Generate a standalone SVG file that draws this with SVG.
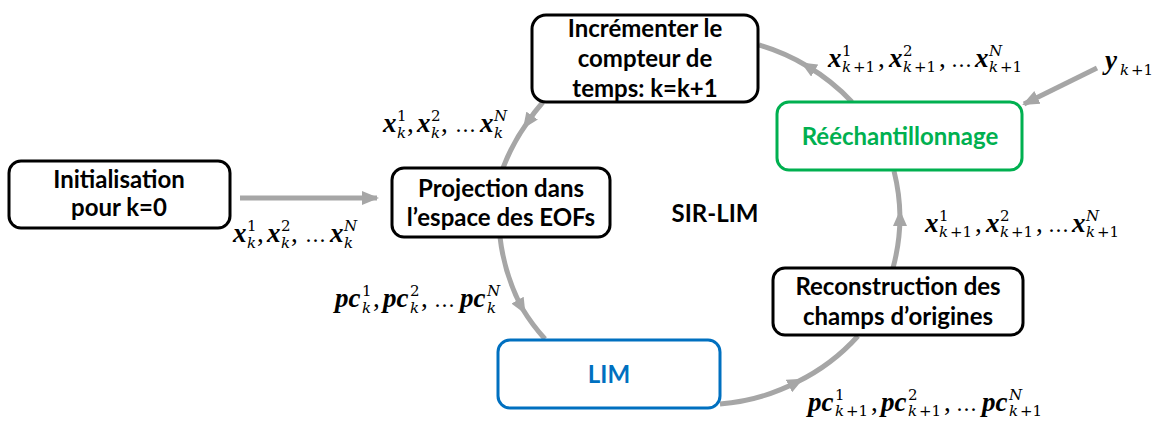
<svg xmlns="http://www.w3.org/2000/svg" width="1167" height="421" viewBox="0 0 1167 421">
<style>
.box{fill:#fff;stroke-width:3}
.blk{stroke:#000}
.grn{stroke:#00b050}
.blu{stroke:#0070c0}
.t{font-family:Lato,"Liberation Sans",sans-serif;font-weight:bold;font-size:24px;text-anchor:middle;fill:#000}
.con{fill:none;stroke:#a6a6a6;stroke-width:5}
.m{font-family:"Liberation Serif","DejaVu Serif",serif;font-weight:bold;font-style:italic;font-size:27px;fill:#000}
.s{font-family:"DejaVu Serif","Liberation Serif",serif;font-weight:normal;font-style:italic;font-size:15px}
.u{font-family:"DejaVu Serif","Liberation Serif",serif;font-weight:normal;font-style:normal;font-size:15px}
.p{font-weight:normal;font-style:normal}
.e{font-family:"DejaVu Serif",serif;font-weight:normal;font-style:normal;font-size:21px}
</style>
<defs>
<marker id="ae" markerUnits="userSpaceOnUse" markerWidth="17" markerHeight="16" refX="15" refY="8" orient="auto"><path d="M0,1 L17,8 L0,15 z" fill="#a6a6a6"/></marker>
<marker id="am" markerUnits="userSpaceOnUse" markerWidth="16" markerHeight="14" refX="9" refY="7" orient="auto"><path d="M0,0 L16,7 L0,14 z" fill="#a6a6a6"/></marker>
</defs>
<g id="connectors">
<path class="con" d="M240,198 L377,198" marker-end="url(#ae)"/>
<path class="con" d="M1097,68 L1024,104" marker-end="url(#ae)"/>
<path class="con" d="M543,102 A200,200 0 0,0 527,123 A200,200 0 0,0 503,168" marker-mid="url(#am)"/>
<path class="con" d="M500,237 A200,200 0 0,0 522,308 A200,200 0 0,0 545,339" marker-mid="url(#am)"/>
<path class="con" d="M720,404 A200,200 0 0,0 797,382 A200,200 0 0,0 858,336" marker-mid="url(#am)"/>
<path class="con" d="M893,268 A200,200 0 0,0 900,217 A200,200 0 0,0 894,171" marker-mid="url(#am)"/>
<path class="con" d="M852,102 A200,200 0 0,0 807,66 A200,200 0 0,0 759,45" marker-mid="url(#am)"/>
</g>
<g id="init">
<rect class="box blk" x="9" y="161" width="221" height="67" rx="12"/>
<text class="t" x="119" y="188">Initialisation</text>
<text class="t" x="119" y="216">pour k=0</text>
</g>
<g id="projection">
<rect class="box blk" x="392" y="168" width="218" height="69" rx="12"/>
<text class="t" x="501" y="197">Projection dans</text>
<text class="t" x="501" y="226">l’espace des EOFs</text>
</g>
<g id="increment">
<rect class="box blk" x="532" y="15" width="226" height="87" rx="14"/>
<text class="t" x="645" y="37">Incrémenter le</text>
<text class="t" x="645" y="67">compteur de</text>
<text class="t" x="645" y="97">temps: k=k+1</text>
</g>
<g id="reechantillonnage">
<rect class="box grn" x="777" y="102" width="245" height="68" rx="12"/>
<text class="t" x="900" y="145" style="fill:#00b050">Rééchantillonnage</text>
</g>
<g id="reconstruction">
<rect class="box blk" x="773" y="268" width="250" height="67" rx="12"/>
<text class="t" x="898" y="295">Reconstruction des</text>
<text class="t" x="898" y="325">champs d’origines</text>
</g>
<g id="lim">
<rect class="box blu" x="498" y="340" width="222" height="68" rx="12"/>
<text class="t" x="609" y="383" style="fill:#0070c0">LIM</text>
</g>
<g id="sirlim">
<text class="t" x="715" y="222">SIR-LIM</text>
</g>
<g id="labels">
<text class="m"><tspan x="233" y="242">x</tspan><tspan class="s" x="247" y="248">k</tspan><tspan class="u" x="247" y="231">1</tspan><tspan class="p" x="257" y="242">,</tspan><tspan x="267" y="242">x</tspan><tspan class="s" x="281" y="248">k</tspan><tspan class="u" x="281" y="231">2</tspan><tspan class="p" x="291" y="242">,</tspan><tspan class="e" x="305" y="242">…</tspan><tspan x="330" y="242">x</tspan><tspan class="s" x="344" y="248">k</tspan><tspan class="s" x="344" y="231">N</tspan></text>
<text class="m"><tspan x="383" y="132">x</tspan><tspan class="s" x="397" y="138">k</tspan><tspan class="u" x="397" y="121">1</tspan><tspan class="p" x="407" y="132">,</tspan><tspan x="417" y="132">x</tspan><tspan class="s" x="431" y="138">k</tspan><tspan class="u" x="431" y="121">2</tspan><tspan class="p" x="441" y="132">,</tspan><tspan class="e" x="455" y="132">…</tspan><tspan x="480" y="132">x</tspan><tspan class="s" x="494" y="138">k</tspan><tspan class="s" x="494" y="121">N</tspan></text>
<text class="m"><tspan x="335" y="307">pc</tspan><tspan class="s" x="362" y="313">k</tspan><tspan class="u" x="362" y="296">1</tspan><tspan class="p" x="373" y="307">,</tspan><tspan x="383" y="307">pc</tspan><tspan class="s" x="410" y="313">k</tspan><tspan class="u" x="410" y="296">2</tspan><tspan class="p" x="421" y="307">,</tspan><tspan class="e" x="434" y="307">…</tspan><tspan x="460" y="307">pc</tspan><tspan class="s" x="487" y="313">k</tspan><tspan class="s" x="487" y="296">N</tspan></text>
<text class="m"><tspan x="808" y="411">pc</tspan><tspan class="s" x="835" y="416">k</tspan><tspan class="u" x="846" y="416">+1</tspan><tspan class="u" x="835" y="400">1</tspan><tspan class="p" x="871" y="411">,</tspan><tspan x="881" y="411">pc</tspan><tspan class="s" x="908" y="416">k</tspan><tspan class="u" x="919" y="416">+1</tspan><tspan class="u" x="908" y="400">2</tspan><tspan class="p" x="944" y="411">,</tspan><tspan class="e" x="956" y="411">…</tspan><tspan x="982" y="411">pc</tspan><tspan class="s" x="1009" y="416">k</tspan><tspan class="u" x="1020" y="416">+1</tspan><tspan class="s" x="1009" y="400">N</tspan></text>
<text class="m"><tspan x="925" y="232">x</tspan><tspan class="s" x="939" y="237">k</tspan><tspan class="u" x="950" y="237">+1</tspan><tspan class="u" x="939" y="221">1</tspan><tspan class="p" x="975" y="232">,</tspan><tspan x="986" y="232">x</tspan><tspan class="s" x="1000" y="237">k</tspan><tspan class="u" x="1011" y="237">+1</tspan><tspan class="u" x="1000" y="221">2</tspan><tspan class="p" x="1036" y="232">,</tspan><tspan class="e" x="1048" y="232">…</tspan><tspan x="1072" y="232">x</tspan><tspan class="s" x="1086" y="237">k</tspan><tspan class="u" x="1097" y="237">+1</tspan><tspan class="s" x="1086" y="221">N</tspan></text>
<text class="m"><tspan x="828" y="67">x</tspan><tspan class="s" x="842" y="72">k</tspan><tspan class="u" x="853" y="72">+1</tspan><tspan class="u" x="842" y="56">1</tspan><tspan class="p" x="878" y="67">,</tspan><tspan x="889" y="67">x</tspan><tspan class="s" x="903" y="72">k</tspan><tspan class="u" x="914" y="72">+1</tspan><tspan class="u" x="903" y="56">2</tspan><tspan class="p" x="939" y="67">,</tspan><tspan class="e" x="951" y="67">…</tspan><tspan x="975" y="67">x</tspan><tspan class="s" x="989" y="72">k</tspan><tspan class="u" x="1000" y="72">+1</tspan><tspan class="s" x="989" y="56">N</tspan></text>
<text class="m"><tspan x="1105" y="69">y</tspan><tspan class="s" x="1120" y="75">k</tspan><tspan class="u" x="1131" y="75">+1</tspan></text>
</g>
</svg>
